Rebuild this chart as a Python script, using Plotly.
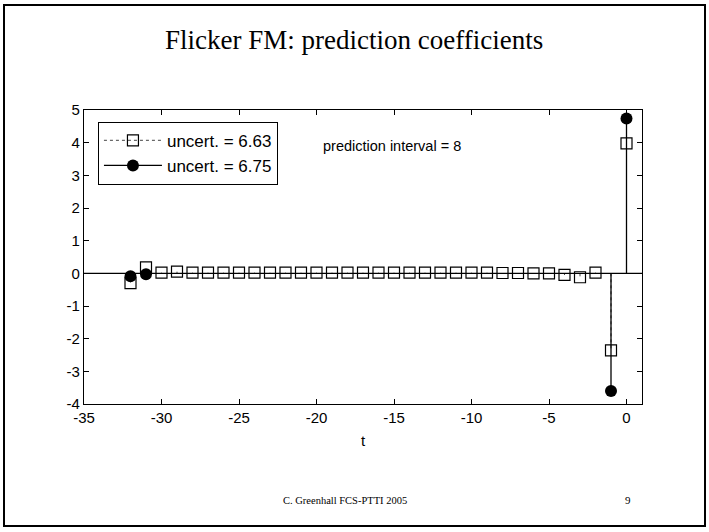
import plotly.graph_objects as go

# Data
t_sq = list(range(-32, 1))
v_sq = [-0.30, 0.18, 0.02, 0.05, 0.02, 0.02, 0.02, 0.02, 0.02, 0.02, 0.02,
        0.02, 0.02, 0.02, 0.02, 0.02, 0.02, 0.02, 0.02, 0.02, 0.02, 0.02,
        0.02, 0.02, 0.01, 0.01, 0.0, 0.0, -0.05, -0.12, 0.02, -2.36, 3.98]
t_ci = [-32, -31, -1, 0]
v_ci = [-0.09, -0.03, -3.60, 4.74]
labels = ["uncert. = 6.63", "uncert. = 6.75"]
x_ticks = [-35, -30, -25, -20, -15, -10, -5, 0]
x_ticktext = ["-35", "-30", "-25", "-20", "-15", "-10", "-5", "0"]
y_ticks = [-4, -3, -2, -1, 0, 1, 2, 3, 4, 5]
y_ticktext = ["-4", "-3", "-2", "-1", "0", "1", "2", "3", "4", "5"]


def stems(ts, vs):
    xs, ys = [], []
    for t, v in zip(ts, vs):
        xs += [t, t, None]
        ys += [0, v, None]
    return xs, ys


fig = go.Figure()

# baseline
fig.add_shape(type="line", xref="paper", yref="y", x0=0, x1=1, y0=0, y1=0,
              line=dict(color="black", width=1.2))

# stems
xs, ys = stems(t_sq, v_sq)
fig.add_trace(go.Scatter(x=xs, y=ys, mode="lines", showlegend=False,
                         line=dict(color="#444", width=1, dash="dot"), hoverinfo="skip"))
xs, ys = stems(t_ci, v_ci)
fig.add_trace(go.Scatter(x=xs, y=ys, mode="lines", showlegend=False,
                         line=dict(color="black", width=1.3), hoverinfo="skip"))

# markers
fig.add_trace(go.Scatter(x=t_sq, y=v_sq, mode="markers", showlegend=False,
                         marker=dict(symbol="square-open", size=11, color="black",
                                     line=dict(width=1.2))))
fig.add_trace(go.Scatter(x=t_ci, y=v_ci, mode="markers", showlegend=False,
                         marker=dict(symbol="circle", size=12, color="black")))

# legend entries
fig.add_trace(go.Scatter(x=[None], y=[None], mode="lines+markers", name=labels[0],
                         line=dict(color="#444", width=1, dash="dot"),
                         marker=dict(symbol="square-open", size=11, color="black",
                                     line=dict(width=1.2))))
fig.add_trace(go.Scatter(x=[None], y=[None], mode="lines+markers", name=labels[1],
                         line=dict(color="black", width=1.3),
                         marker=dict(symbol="circle", size=12, color="black")))

axis_common = dict(showline=True, linecolor="black", linewidth=1.2, mirror="ticks",
                   ticks="inside", ticklen=5, tickcolor="black", showgrid=False,
                   zeroline=False, tickfont=dict(family="Liberation Sans, Arial", size=15,
                                                 color="black"))

fig.update_layout(
    width=709, height=532,
    margin=dict(l=84, r=67, t=110, b=128),
    paper_bgcolor="white", plot_bgcolor="white",
    xaxis=dict(range=[-35, 1], tickvals=x_ticks, ticktext=x_ticktext, **axis_common,
               title=dict(text="t", standoff=10,
                          font=dict(family="Liberation Sans, Arial", size=15, color="black"))),
    yaxis=dict(range=[-4, 5], tickvals=y_ticks, ticktext=y_ticktext, **axis_common),
    legend=dict(x=0.025, y=0.96, xanchor="left", yanchor="top",
                bordercolor="black", borderwidth=1, bgcolor="white",
                font=dict(family="Liberation Sans, Arial", size=17, color="black"),
                tracegroupgap=0, itemwidth=58),
    showlegend=True,
)

fig.add_annotation(x=-19.7, y=3.9, xref="x", yref="y", xanchor="left", showarrow=False,
                   text="prediction interval = 8",
                   font=dict(family="Liberation Sans, Arial", size=14.5, color="black"))

# slide text
fig.add_annotation(x=0.5, y=40, xref="paper", yref="paper", showarrow=False,
                   text="Flicker FM: prediction coefficients", yanchor="middle",
                   font=dict(family="Liberation Serif, Times New Roman", size=27, color="black"))
fig.add_annotation(x=0.5, y=0, xref="paper", yref="paper", showarrow=False,
                   text="C. Greenhall FCS-PTTI 2005",
                   font=dict(family="Liberation Serif, Times New Roman", size=10.5, color="black"))
fig.add_annotation(x=0.5, y=0, xref="paper", yref="paper", showarrow=False,
                   text="9",
                   font=dict(family="Liberation Serif, Times New Roman", size=11, color="black"))

ph = 532 - 110 - 128
pw = 709 - 84 - 67
def px(xp):
    return (xp - 84) / pw
def py(yp):
    return (532 - 128 - yp) / ph

anns = list(fig.layout.annotations)
anns[1].update(x=px(354), y=py(40))
anns[2].update(x=px(345), y=py(500), yanchor="middle")
anns[3].update(x=px(633), y=py(500), yanchor="middle")
fig.layout.annotations = anns

# slide frame
fig.add_shape(type="rect", xref="paper", yref="paper", x0=px(4), x1=px(705), y0=py(526), y1=py(5),
              line=dict(color="black", width=2), layer="below")

fig.write_html("out.html")
